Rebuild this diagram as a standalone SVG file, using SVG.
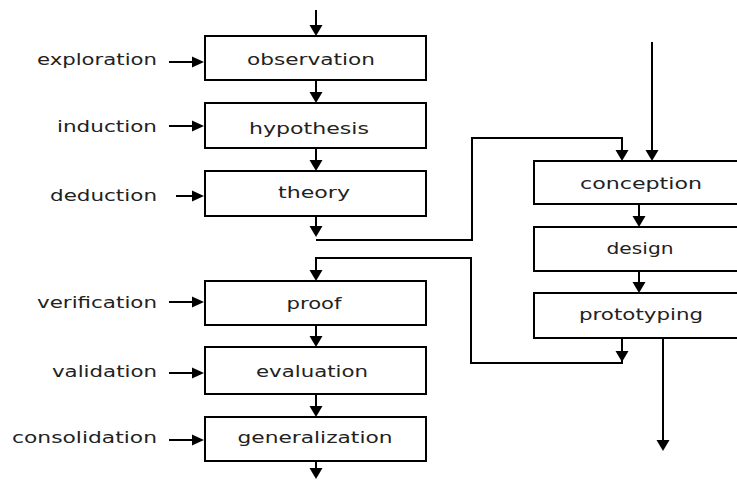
<svg xmlns="http://www.w3.org/2000/svg" xmlns:xlink="http://www.w3.org/1999/xlink" width="737" height="484" viewBox="0 0 737 484">
<style>
.box{fill:#fff;stroke:#000;stroke-width:2}
.ln{fill:none;stroke:#000;stroke-width:2}
text{font-family:"DejaVu Sans","Liberation Sans",sans-serif;font-size:15px;fill:#222}
.c{text-anchor:middle}
</style>
<defs>
<path id="ad" d="M-6.5,-11 L6.5,-11 L0,0 Z" fill="#000"/>
<path id="ar" d="M-12,-5.5 L-12,5.5 L0,0 Z" fill="#000"/>
</defs>
<rect width="737" height="484" fill="#fff"/>
<g id="connectors">
<path class="ln" d="M316,10 V28 M316,80 V95 M316,148 V163 M316,216 V229 M652,42 V153 M639,204 V219 M639,271 V285 M316,325 V339 M316,394 V409 M316,461 V470 M663,338 V442"/>
<path class="ln" d="M316,240 H472 V138 H622 V153"/>
<path class="ln" d="M622,338 V363 H471 V258 H316 V273"/>
<path class="ln" d="M169,62 H194 M169,126 H194 M176,196 H194 M169,302 H194 M169,373 H194 M169,440 H194"/>
<use xlink:href="#ad" x="316" y="36"/>
<use xlink:href="#ad" x="316" y="103"/>
<use xlink:href="#ad" x="316" y="171"/>
<use xlink:href="#ad" x="316" y="237"/>
<use xlink:href="#ad" x="622" y="161"/>
<use xlink:href="#ad" x="652" y="161"/>
<use xlink:href="#ad" x="639" y="227"/>
<use xlink:href="#ad" x="639" y="293"/>
<use xlink:href="#ad" x="622" y="362"/>
<use xlink:href="#ad" x="316" y="281"/>
<use xlink:href="#ad" x="316" y="347"/>
<use xlink:href="#ad" x="316" y="417"/>
<use xlink:href="#ad" x="316" y="479"/>
<use xlink:href="#ad" x="663" y="451"/>
<use xlink:href="#ar" x="204" y="62"/>
<use xlink:href="#ar" x="204" y="126"/>
<use xlink:href="#ar" x="204" y="196"/>
<use xlink:href="#ar" x="204" y="302"/>
<use xlink:href="#ar" x="204" y="373"/>
<use xlink:href="#ar" x="204" y="440"/>
</g>
<g id="observation"><rect class="box" x="205" y="36" width="221" height="44"/><text x="311" y="65" class="c" textLength="128" lengthAdjust="spacingAndGlyphs">observation</text></g>
<g id="hypothesis"><rect class="box" x="205" y="103" width="221" height="45"/><text x="309" y="134" class="c" textLength="120" lengthAdjust="spacingAndGlyphs">hypothesis</text></g>
<g id="theory"><rect class="box" x="205" y="171" width="221" height="45"/><text x="314" y="198" class="c" textLength="72" lengthAdjust="spacingAndGlyphs">theory</text></g>
<g id="proof"><rect class="box" x="205" y="281" width="221" height="44"/><text x="314" y="309" class="c" textLength="55" lengthAdjust="spacingAndGlyphs">proof</text></g>
<g id="evaluation"><rect class="box" x="205" y="347" width="221" height="47"/><text x="312" y="377" class="c" textLength="112" lengthAdjust="spacingAndGlyphs">evaluation</text></g>
<g id="generalization"><rect class="box" x="205" y="417" width="221" height="44"/><text x="315" y="443" class="c" textLength="155" lengthAdjust="spacingAndGlyphs">generalization</text></g>
<g id="conception"><rect class="box" x="534" y="161" width="216" height="43"/><text x="641" y="189" class="c" textLength="122" lengthAdjust="spacingAndGlyphs">conception</text></g>
<g id="design"><rect class="box" x="534" y="227" width="216" height="44"/><text x="640" y="254" class="c" textLength="67" lengthAdjust="spacingAndGlyphs">design</text></g>
<g id="prototyping"><rect class="box" x="534" y="293" width="216" height="45"/><text x="641" y="320" class="c" textLength="124" lengthAdjust="spacingAndGlyphs">prototyping</text></g>
<g id="labels">
<text x="37" y="65" textLength="120" lengthAdjust="spacingAndGlyphs">exploration</text>
<text x="57" y="132" textLength="100" lengthAdjust="spacingAndGlyphs">induction</text>
<text x="50" y="201" textLength="107" lengthAdjust="spacingAndGlyphs">deduction</text>
<text x="37" y="308" textLength="120" lengthAdjust="spacingAndGlyphs">verification</text>
<text x="52" y="377" textLength="105" lengthAdjust="spacingAndGlyphs">validation</text>
<text x="12" y="443" textLength="145" lengthAdjust="spacingAndGlyphs">consolidation</text>
</g>
</svg>
